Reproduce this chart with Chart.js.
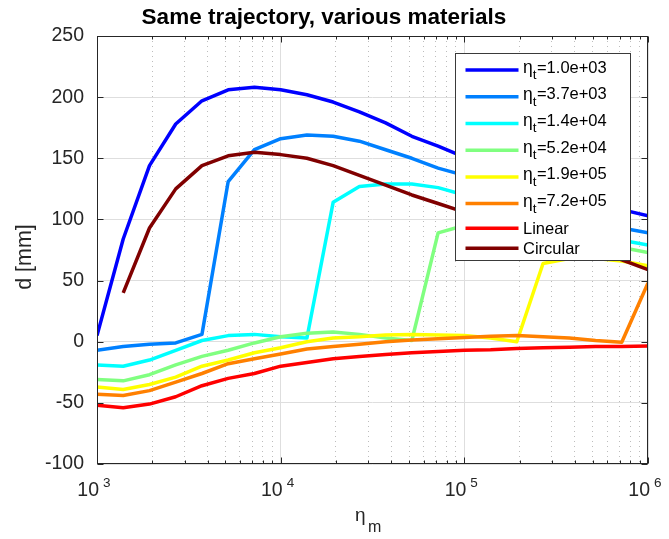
<!DOCTYPE html>
<html>
<head>
<meta charset="utf-8">
<script src="https://cdn.jsdelivr.net/npm/chart.js@4.4.0/dist/chart.umd.min.js"></script>
<style>
	html, body { margin: 0; padding: 0; background: #fff; }
	#wrap { width: 669px; height: 539px; }
</style>
</head>
<body>
<div id="wrap"><canvas id="myChart_materials"></canvas></div>
<script>
// eta_m sample points, 22 per curve
const etaM = [1000, 1389, 1931, 2683, 3728, 5179, 7197, 10000, 13895, 19307, 26827, 37276, 51795, 71969, 100000, 138950, 193070, 268270, 372759, 517947, 719686, 1000000];

// eta_t of each material curve
const etaT = ['1.0e+03', '3.7e+03', '1.4e+04', '5.2e+04', '1.9e+05', '7.2e+05'];

// d [mm] for each curve
const d_t1 = [5, 84, 144, 178, 197, 206, 208, 206, 202, 196, 188, 179, 168, 160, 151, 143, 135, 127, 120, 114, 108, 103];
const d_t2 = [-7, -4, -2, -1, 6, 131, 157, 166, 169, 168, 164, 157, 150, 142, 136, 128, 120, 112, 105, 99, 93, 89];
const d_t3 = [-19, -20, -15, -7, 1, 5, 6, 4, 3, 114, 127, 129, 129, 126, 120, 113, 106, 99, 93, 88, 83, 79];
const d_t4 = [-31, -32, -27, -19, -12, -7, -1, 4, 7, 8, 6, 3, 1, 89, 95, 94, 91, 88, 85, 81, 77, 73];
const d_t5 = [-37, -39, -35, -29, -20, -15, -9, -5, 0, 3, 4, 5.5, 6, 5.5, 5, 3, 0, 64, 68, 68, 66, 62];
const d_t6 = [-43, -44, -40, -33, -26, -18, -14, -10, -6, -4, -2, 0, 1.5, 2.5, 3.5, 4.5, 5, 4, 3, 1, -0.5, 48];
const d_linear = [-52, -54, -51, -45, -36, -30, -26, -20, -17, -14, -12, -10.5, -9, -8, -7, -6.5, -5.5, -5, -4.5, -4, -4, -3.5];
const d_circular = [null, 40, 93, 125, 144, 152, 155, 153, 150, 144, 136, 128, 120, 113, 106, 99, 92, 86, 80, 74, 67, 59];

// axis ticks
const yTicks = [-100, -50, 0, 50, 100, 150, 200, 250];
const xGridTicks = [1000, 2000, 3000, 4000, 5000, 6000, 7000, 8000, 9000,
	10000, 20000, 30000, 40000, 50000, 60000, 70000, 80000, 90000,
	100000, 200000, 300000, 400000, 500000, 600000, 700000, 800000, 900000, 1000000];
const xExponents = [3, 4, 5, 6];

// jet(8)
const jet8 = ['#0000FF', '#0080FF', '#00FFFF', '#80FF80', '#FFFF00', '#FF8000', '#FF0000', '#800000'];
const FONT = '"Liberation Sans", Arial, Helvetica, sans-serif';
const AXIS_COLOR = '#262626';

const isDecade = (v) => Math.abs(Math.log10(v) - Math.round(Math.log10(v))) < 1e-9;

const series = [d_t1, d_t2, d_t3, d_t4, d_t5, d_t6, d_linear, d_circular];
const names = etaT.map(v => 'η_t=' + v).concat(['Linear', 'Circular']);

const datasets = series.map((vals, i) => ({
	label: names[i],
	data: vals.map((v, k) => ({ x: etaM[k], y: v })),
	borderColor: jet8[i],
	backgroundColor: jet8[i],
	borderWidth: 3.5,
	borderJoinStyle: 'round',
	pointRadius: 0,
	fill: false,
	tension: 0,
	// later curves on top
	order: series.length - i,
}));

// box, inward ticks, x labels with exponents, axis titles, legend
const matlabAxes = {
	id: 'matlabAxes',
	afterDraw(chart) {
		const { ctx, chartArea: a, scales: { x, y } } = chart;
		const L = Math.round(a.left) + 0.5, R = Math.round(a.right) - 0.5;
		const T = Math.round(a.top) + 0.5, B = Math.round(a.bottom) - 0.5;
		ctx.save();

		// ticks
		ctx.strokeStyle = AXIS_COLOR;
		ctx.lineWidth = 1;
		ctx.beginPath();
		yTicks.forEach(v => {
			const py = Math.round(y.getPixelForValue(v)) + 0.5;
			ctx.moveTo(L, py); ctx.lineTo(L + 6, py);
			ctx.moveTo(R, py); ctx.lineTo(R - 6, py);
		});
		xGridTicks.forEach(v => {
			const px = Math.round(x.getPixelForValue(v)) + 0.5;
			const len = isDecade(v) ? 6 : 3;
			ctx.moveTo(px, B); ctx.lineTo(px, B - len);
			ctx.moveTo(px, T); ctx.lineTo(px, T + len);
		});
		ctx.stroke();

		// box
		ctx.strokeRect(L, T, R - L, B - T);

		// x tick labels 10^n
		ctx.fillStyle = AXIS_COLOR;
		ctx.textBaseline = 'alphabetic';
		xExponents.forEach(e => {
			const px = x.getPixelForValue(Math.pow(10, e));
			ctx.font = '19.5px ' + FONT;
			ctx.textAlign = 'right';
			ctx.fillText('10', px + 2, 496);
			ctx.font = '13.5px ' + FONT;
			ctx.textAlign = 'left';
			ctx.fillText(String(e), px + 6, 486.5);
		});

		// x title eta_m
		ctx.textAlign = 'left';
		ctx.font = '19px ' + FONT;
		ctx.fillText('η', 355, 521);
		ctx.font = '16px ' + FONT;
		ctx.fillText('m', 368, 531.5);

		// y title
		ctx.save();
		ctx.translate(31, 257);
		ctx.rotate(-Math.PI / 2);
		ctx.textAlign = 'center';
		ctx.font = '21.5px ' + FONT;
		ctx.fillText('d [mm]', 0, 0);
		ctx.restore();

		// legend
		const lx = Math.round(a.right - 18) + 0.5 - 175, ly = Math.round(a.top + 16.5) + 0.5;
		const lw = 175, lh = 207;
		ctx.fillStyle = '#fff';
		ctx.fillRect(lx, ly, lw, lh);
		ctx.strokeStyle = '#3a3a3a';
		ctx.lineWidth = 1;
		ctx.strokeRect(lx, ly, lw, lh);

		let rowY = ly + 16.6;
		chart.data.datasets.forEach((ds, i) => {
			if (i > 0) rowY += i < 6 ? 26.7 : (i === 6 ? 24.6 : 20);
			ctx.strokeStyle = ds.borderColor;
			ctx.lineWidth = 3.5;
			ctx.beginPath();
			ctx.moveTo(lx + 10, rowY);
			ctx.lineTo(lx + 63, rowY);
			ctx.stroke();

			ctx.fillStyle = '#000';
			ctx.textAlign = 'left';
			const tx = lx + 67.5;
			if (i < 6) {
				const base = rowY + 2.4;
				ctx.font = '17.5px ' + FONT;
				ctx.fillText('η', tx, base + 0.5);
				let w = ctx.measureText('η').width;
				ctx.font = '13.5px ' + FONT;
				ctx.fillText('t', tx + w, base + 6.5);
				w += ctx.measureText('t').width + 0.5;
				ctx.font = '16.5px ' + FONT;
				ctx.fillText('=' + etaT[i], tx + w, base);
			} else {
				ctx.font = '16.5px ' + FONT;
				ctx.fillText(ds.label, tx, rowY + 5.8);
			}
		});
		ctx.restore();
	}
};

const ctx = document.getElementById('myChart_materials').getContext('2d');
const myChart_materials = new Chart(ctx, {
	type: 'line',
	data: { datasets: datasets },
	options: {
		responsive: true,
		maintainAspectRatio: false,
		animation: false,
		spanGaps: false,
		layout: {
			padding: { top: 0, right: 21, bottom: 0, left: 0 }
		},
		scales: {
			x: {
				type: 'logarithmic',
				min: 1000,
				max: 1000000,
				afterBuildTicks: (scale) => {
					scale.ticks = xGridTicks.map(v => ({ value: v, major: isDecade(v) }));
				},
				afterFit: (scale) => { scale.height = 75; },
				ticks: { display: false },
				grid: {
					drawTicks: false,
					lineWidth: 1,
					color: (c) => (c.tick && isDecade(c.tick.value)) ? '#dedede' : '#bdbdbd',
				},
				border: {
					display: false,
					dash: (c) => (c.tick && !isDecade(c.tick.value)) ? [1, 4] : [],
				},
			},
			y: {
				min: -100,
				max: 250,
				afterFit: (scale) => { scale.width = 97; },
				ticks: {
					stepSize: 50,
					padding: 13,
					color: AXIS_COLOR,
					font: { family: FONT, size: 19.5 },
				},
				grid: {
					drawTicks: false,
					color: '#dedede',
				},
				border: { display: false },
			},
		},
		plugins: {
			legend: { display: false },
			tooltip: { enabled: false },
			title: {
				display: true,
				text: 'Same trajectory, various materials',
				color: '#000',
				font: { family: FONT, size: 22.5, weight: 'bold', lineHeight: 1.2 },
				padding: { top: 4, bottom: 5 },
			},
		},
	},
	plugins: [matlabAxes],
});
</script>
</body>
</html>
